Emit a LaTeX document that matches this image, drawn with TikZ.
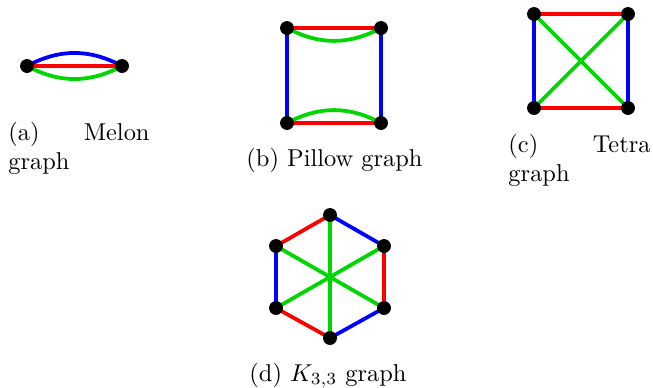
\documentclass[tikz,border=0pt]{standalone}
\begin{document}
\begin{tikzpicture}[x=0.41pt,y=-0.41pt,
  vert/.style={circle,fill=black,inner sep=0pt,minimum size=5.7pt},
  lw/.style={line width=1.55pt},
  ered/.style={lw,draw={rgb,255:red,255;green,0;blue,0}},
  eblu/.style={lw,draw={rgb,255:red,0;green,0;blue,255}},
  egrn/.style={lw,draw={rgb,255:red,0;green,215;blue,0}},
  captxt/.style={inner sep=0pt,font=\fontsize{10}{12}\selectfont}]
\useasboundingbox (0,0) rectangle (653,387);
% (a) Melon
\coordinate (a1) at (27,66);
\coordinate (a2) at (122,66);
\draw[eblu] (a1) to[bend left=28] (a2);
\draw[ered] (a1) -- (a2);
\draw[egrn] (a1) to[bend right=28] (a2);
\foreach \p in {a1,a2} \node[vert] at (\p) {};
\node[captxt,anchor=base west] (ca1) at (8,140) {(a)};
\node[captxt,anchor=base east] (ca2) at (150,140) {Melon};
\node[captxt,anchor=base west] (ca3) at (8,169) {graph};
% (b) Pillow
\coordinate (b1) at (287,28);
\coordinate (b2) at (381,28);
\coordinate (b3) at (287,123);
\coordinate (b4) at (381,123);
\draw[ered] (b1) -- (b2);
\draw[egrn] (b1) to[bend right=28] (b2);
\draw[ered] (b3) -- (b4);
\draw[egrn] (b3) to[bend left=28] (b4);
\draw[eblu] (b1) -- (b3);
\draw[eblu] (b2) -- (b4);
\foreach \p in {b1,b2,b3,b4} \node[vert] at (\p) {};
\node[captxt,anchor=base west] (cb) at (246,166) {(b) Pillow graph};
% (c) Tetra
\coordinate (c1) at (534,14);
\coordinate (c2) at (628,14);
\coordinate (c3) at (534,108);
\coordinate (c4) at (628,108);
\draw[ered] (c1) -- (c2);
\draw[ered] (c3) -- (c4);
\draw[eblu] (c1) -- (c3);
\draw[eblu] (c2) -- (c4);
\draw[egrn] (c1) -- (c4);
\draw[egrn] (c2) -- (c3);
\foreach \p in {c1,c2,c3,c4} \node[vert] at (\p) {};
\node[captxt,anchor=base west] (cc1) at (508,152) {(c)};
\node[captxt,anchor=base east] (cc2) at (651,152) {Tetra};
\node[captxt,anchor=base west] (cc3) at (508,181) {graph};
% (d) K33
\coordinate (d1) at (330,215);
\coordinate (d2) at (384,246);
\coordinate (d3) at (384,308);
\coordinate (d4) at (330,338);
\coordinate (d5) at (276,308);
\coordinate (d6) at (276,246);
\draw[eblu] (d1) -- (d2);
\draw[ered] (d2) -- (d3);
\draw[eblu] (d3) -- (d4);
\draw[ered] (d4) -- (d5);
\draw[eblu] (d5) -- (d6);
\draw[ered] (d6) -- (d1);
\draw[egrn] (d1) -- (d4);
\draw[egrn] (d2) -- (d5);
\draw[egrn] (d3) -- (d6);
\foreach \p in {d1,d2,d3,d4,d5,d6} \node[vert] at (\p) {};
\node[captxt,anchor=base west] (cd) at (249,381) {(d) $K_{3,3}$ graph};
\end{tikzpicture}
\end{document}
